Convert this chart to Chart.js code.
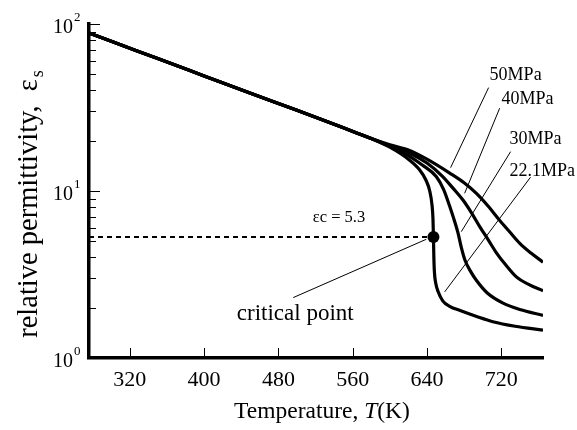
<!DOCTYPE html>
<html>
<head>
<meta charset="utf-8">
<script src="https://cdn.jsdelivr.net/npm/chart.js@4/dist/chart.umd.min.js"></script>
<style>
  html, body { margin: 0; padding: 0; background: #fff; }
  #wrap { width: 577px; height: 430px; }
</style>
</head>
<body>
<div id="wrap"><canvas id="permChart" width="577" height="430"></canvas></div>
<script>
// temperatures (K) and permittivity, one pair per pressure
const tempCommon = [276, 300, 350, 400, 450, 500, 550, 565, 580];
const epsCommon = [88.3, 78.7, 62.1, 48.9, 38.5, 30.4, 23.9, 22.2, 20.6];

const temp221 = [600, 620, 632, 639, 643, 645.5, 646.5, 647, 647.4, 648, 649.5, 652, 657, 665, 675, 695, 711, 735, 765];
const eps221 = [18.3, 15.5, 13.4, 11.6, 10.0, 8.2, 6.8, 5.3, 4.1, 3.3, 2.8, 2.5, 2.2, 2.03, 1.93, 1.76, 1.65, 1.55, 1.47];

const temp30 = [600, 620, 635, 650, 658, 664.5, 669, 673.5, 677, 681, 687, 693, 705, 722, 740, 765];
const eps30 = [18.5, 16.3, 14.3, 12.2, 10.2, 8.1, 6.8, 5.6, 4.6, 3.85, 3.3, 2.93, 2.45, 2.13, 1.95, 1.8];

const temp40 = [600, 620, 640, 657, 668, 679, 688, 697, 706, 715, 725, 736, 750, 765];
const eps40 = [18.7, 17.0, 14.7, 12.2, 10.4, 8.8, 7.4, 6.1, 5.1, 4.25, 3.6, 3.07, 2.75, 2.53];

const temp50 = [600, 620, 640, 664.5, 680, 693, 706, 718, 729, 740, 752, 765];
const eps50 = [18.9, 17.6, 15.5, 12.8, 11.2, 9.7, 8.1, 6.7, 5.7, 4.86, 4.25, 3.75];

const critT = 647;
const critEps = 5.3;

const xTickValues = [320, 400, 480, 560, 640, 720];
const yTickValues = [1, 2, 3, 4, 5, 6, 7, 8, 9, 10, 20, 30, 40, 50, 60, 70, 80, 90, 100];
const yDecades = [1, 10, 100];
const yDecadeExp = ['0', '1', '2'];

// leader lines [startT, startEps, endT, endEps]
const leaderCrit = [496, 2.30, 639.3, 5.14];
const leader50 = [706.4, 41.6, 665.5, 13.8];
const leader40 = [718.3, 31.3, 680.6, 9.69];
const leader30 = [730.1, 17.2, 677.0, 5.71];
const leader221 = [751.6, 12.1, 659.1, 2.49];

// text notes (left / baseline anchor)
const labelTexts = ['50MPa', '40MPa', '30MPa', '22.1MPa', 'critical point', 'εc = 5.3'];
const labelT = [707.5, 720.4, 729, 729, 435.2, 517];
const labelEps = [46.2, 33.2, 19.0, 12.3, 1.69, 6.52];
const labelSize = [18, 18, 18, 18, 23, 16.5];

const serif = "'Liberation Serif', 'DejaVu Serif', serif";

const toPoints = (ts, es) => ts.map((t, i) => ({ x: t, y: es[i] }));
const curve = (ts, es) => toPoints(tempCommon.concat(ts), epsCommon.concat(es));
const leader = (l) => [{ x: l[0], y: l[1] }, { x: l[2], y: l[3] }];

const curveStyle = {
  borderColor: '#000',
  borderWidth: 3.2,
  pointRadius: 0,
  fill: false,
  cubicInterpolationMode: 'monotone'
};
const leaderStyle = { borderColor: '#000', borderWidth: 1, pointRadius: 0, fill: false };

// draws inward ticks, decade labels, axis titles and text notes
const decorations = {
  id: 'decorations',
  afterDraw(chart) {
    const { ctx, chartArea } = chart;
    const xs = chart.scales.x;
    const ys = chart.scales.y;
    ctx.save();
    ctx.strokeStyle = '#000';
    ctx.lineWidth = 1;

    // x ticks point up into the plot
    xTickValues.forEach((v) => {
      const px = Math.round(xs.getPixelForValue(v)) + 0.5;
      ctx.beginPath();
      ctx.moveTo(px, chartArea.bottom);
      ctx.lineTo(px, chartArea.bottom - 10);
      ctx.stroke();
    });

    // y ticks point right into the plot
    yTickValues.forEach((v) => {
      const py = Math.round(ys.getPixelForValue(v)) + 0.5;
      const len = yDecades.includes(v) ? 11 : 7;
      ctx.beginPath();
      ctx.moveTo(chartArea.left, py);
      ctx.lineTo(chartArea.left + len, py);
      ctx.stroke();
    });

    // decade labels 10^n
    ctx.fillStyle = '#000';
    yDecades.forEach((v, i) => {
      const py = ys.getPixelForValue(v);
      ctx.font = '20px ' + serif;
      ctx.textAlign = 'right';
      ctx.textBaseline = 'alphabetic';
      const supW = 8;
      ctx.fillText('10', chartArea.left - 8 - supW, py + 9);
      ctx.font = '13px ' + serif;
      ctx.textAlign = 'left';
      ctx.fillText(yDecadeExp[i], chartArea.left - 8 - supW + 1, py - 3);
    });

    // x title
    ctx.font = '23.5px ' + serif;
    ctx.textBaseline = 'alphabetic';
    const p1 = 'Temperature, ';
    const p2 = 'T';
    const p3 = '(K)';
    const w1 = ctx.measureText(p1).width;
    const w3 = ctx.measureText(p3).width;
    ctx.font = 'italic 23.5px ' + serif;
    const w2 = ctx.measureText(p2).width;
    const cx = (chartArea.left + chartArea.right) / 2 + 6;
    const sx = cx - (w1 + w2 + w3) / 2;
    ctx.textAlign = 'left';
    ctx.font = '23.5px ' + serif;
    ctx.fillText(p1, sx, 418);
    ctx.font = 'italic 23.5px ' + serif;
    ctx.fillText(p2, sx + w1, 418);
    ctx.font = '23.5px ' + serif;
    ctx.fillText(p3, sx + w1 + w2, 418);

    // y title, rotated, with subscript s
    ctx.save();
    const cy = (chartArea.top + chartArea.bottom) / 2 + 14;
    ctx.translate(37, cy);
    ctx.rotate(-Math.PI / 2);
    ctx.font = '28.5px ' + serif;
    const t1 = 'relative permittivity,  ε';
    const tw1 = ctx.measureText(t1).width;
    ctx.font = '18px ' + serif;
    const tw2 = ctx.measureText('s').width;
    const ty = -(tw1 + tw2) / 2;
    ctx.font = '28.5px ' + serif;
    ctx.fillText(t1, ty, 0);
    ctx.font = '18px ' + serif;
    ctx.fillText('s', ty + tw1 + 2, 6);
    ctx.restore();

    // notes on the plot
    labelTexts.forEach((txt, i) => {
      ctx.font = labelSize[i] + 'px ' + serif;
      ctx.textAlign = 'left';
      ctx.fillText(txt, xs.getPixelForValue(labelT[i]), ys.getPixelForValue(labelEps[i]));
    });
    ctx.restore();
  }
};

new Chart(document.getElementById('permChart'), {
  type: 'line',
  data: {
    datasets: [
      { data: curve(temp221, eps221), ...curveStyle },
      { data: curve(temp30, eps30), ...curveStyle },
      { data: curve(temp40, eps40), ...curveStyle },
      { data: curve(temp50, eps50), ...curveStyle },
      {
        data: [{ x: 276, y: critEps }, { x: critT, y: critEps }],
        borderColor: '#000', borderWidth: 2, borderDash: [5, 4], pointRadius: 0, fill: false
      },
      { data: leader(leaderCrit), ...leaderStyle },
      { data: leader(leader50), ...leaderStyle },
      { data: leader(leader40), ...leaderStyle },
      { data: leader(leader30), ...leaderStyle },
      { data: leader(leader221), ...leaderStyle },
      {
        data: [{ x: critT, y: critEps }],
        showLine: false, pointRadius: 6, pointBackgroundColor: '#000', pointBorderColor: '#000', pointBorderWidth: 0
      }
    ]
  },
  options: {
    responsive: false,
    animation: false,
    devicePixelRatio: 1,
    layout: { padding: { left: 0, top: 24, right: 34, bottom: 0 } },
    plugins: { legend: { display: false }, tooltip: { enabled: false } },
    scales: {
      x: {
        type: 'linear',
        min: 276,
        max: 765,
        afterBuildTicks: (s) => { s.ticks = xTickValues.map((v) => ({ value: v })); },
        afterFit: (s) => { s.height = 72; },
        grid: { display: false, drawTicks: false },
        border: { display: true, color: '#000', width: 3.5 },
        ticks: {
          color: '#000',
          padding: 9,
          maxRotation: 0,
          autoSkip: false,
          font: { family: serif, size: 22 }
        }
      },
      y: {
        type: 'logarithmic',
        min: 1,
        max: 100,
        afterBuildTicks: (s) => { s.ticks = yTickValues.map((v) => ({ value: v })); },
        afterFit: (s) => { s.width = 89; },
        grid: { display: false, drawTicks: false },
        border: { display: true, color: '#000', width: 3.5 },
        ticks: { display: false }
      }
    }
  },
  plugins: [decorations]
});
</script>
</body>
</html>
